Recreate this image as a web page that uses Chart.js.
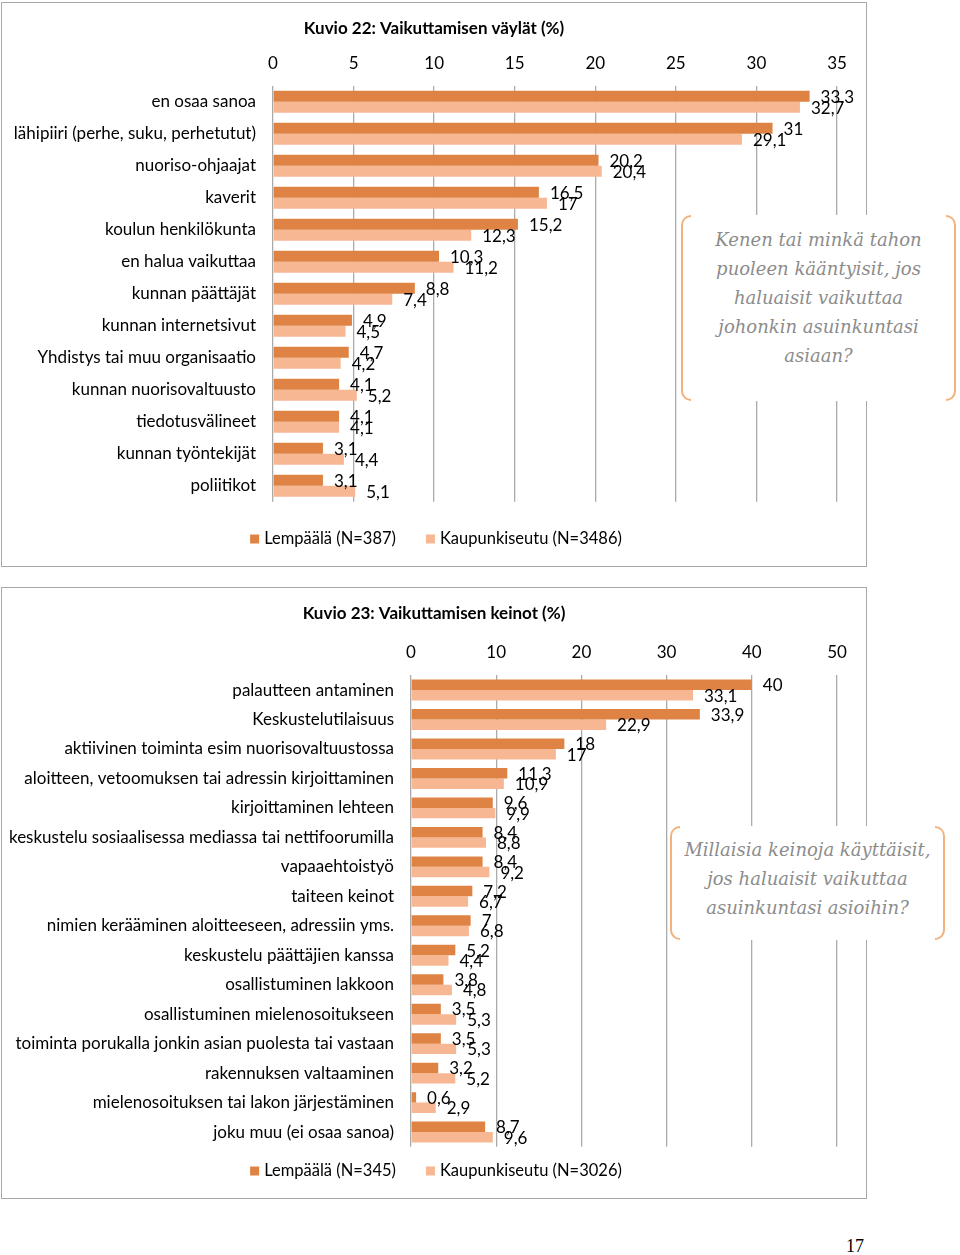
<!DOCTYPE html>
<html>
<head>
<meta charset="utf-8">
<script src="https://cdn.jsdelivr.net/npm/chart.js@4.4.1/dist/chart.umd.min.js"></script>
<style>
    body { margin: 0; width: 960px; height: 1255px; background: #fff; position: relative; font-family: Lato, sans-serif; }
    .frame { position: absolute; border: 1.5px solid #a8a8a8; box-sizing: border-box; }
    canvas { position: absolute; left: 2px; }
    .note { position: absolute; background: #fff; z-index: 2; }
    .note .txt { position: absolute; left: 0; right: 0; text-align: center; font-family: "DejaVu Serif", serif; font-style: italic; font-size: 18px; line-height: 29px; color: #8c8c8c; }
    .bl, .br { position: absolute; top: 0; bottom: 0; width: 10px; border: 2px solid #f1b27d; box-sizing: border-box; }
    .bl { left: 0; border-right: none; border-radius: 12px 0 0 12px; }
    .br { right: 0; border-left: none; border-radius: 0 12px 12px 0; }
    .page { position: absolute; left: 846px; top: 1236px; font-family: "Liberation Serif", serif; font-size: 18px; }
</style>
</head>
<body>

<div class="frame" style="left:1px; top:2px; width:866px; height:565px;"></div>
<div class="frame" style="left:1px; top:587px; width:866px; height:612px;"></div>

<canvas id="chart-vaylat" width="864" height="563" style="top:3px;"></canvas>
<canvas id="chart-keinot" width="864" height="610" style="top:588px;"></canvas>

<div class="note" style="left:681px; top:215px; width:275px; height:186px;">
    <div class="bl"></div><div class="br"></div>
    <div class="txt" style="top:10px;">Kenen tai minkä tahon<br>puoleen kääntyisit, jos<br>haluaisit vaikuttaa<br>johonkin asuinkuntasi<br>asiaan?</div>
</div>
<div class="note" style="left:670px; top:826px; width:275px; height:114px;">
    <div class="bl"></div><div class="br"></div>
    <div class="txt" style="top:9px;">Millaisia keinoja käyttäisit,<br>jos haluaisit vaikuttaa<br>asuinkuntasi asioihin?</div>
</div>

<div class="page">17</div>

<script>
// --- Kuvio 22 data ---
const vaylatLabels = [
    "en osaa sanoa", "lähipiiri (perhe, suku, perhetutut)", "nuoriso-ohjaajat", "kaverit",
    "koulun henkilökunta", "en halua vaikuttaa", "kunnan päättäjät", "kunnan internetsivut",
    "Yhdistys tai muu organisaatio", "kunnan nuorisovaltuusto", "tiedotusvälineet",
    "kunnan työntekijät", "poliitikot"
];
const vaylatLempaala = [33.3, 31, 20.2, 16.5, 15.2, 10.3, 8.8, 4.9, 4.7, 4.1, 4.1, 3.1, 3.1];
const vaylatSeutu = [32.7, 29.1, 20.4, 17, 12.3, 11.2, 7.4, 4.5, 4.2, 5.2, 4.1, 4.4, 5.1];

// --- Kuvio 23 data ---
const keinotLabels = [
    "palautteen antaminen", "Keskustelutilaisuus", "aktiivinen toiminta esim nuorisovaltuustossa",
    "aloitteen, vetoomuksen tai adressin kirjoittaminen", "kirjoittaminen lehteen",
    "keskustelu sosiaalisessa mediassa tai nettifoorumilla", "vapaaehtoistyö", "taiteen keinot",
    "nimien kerääminen aloitteeseen, adressiin yms.", "keskustelu päättäjien kanssa",
    "osallistuminen lakkoon", "osallistuminen mielenosoitukseen",
    "toiminta porukalla jonkin asian puolesta tai vastaan", "rakennuksen valtaaminen",
    "mielenosoituksen tai lakon järjestäminen", "joku muu (ei osaa sanoa)"
];
const keinotLempaala = [40, 33.9, 18, 11.3, 9.6, 8.4, 8.4, 7.2, 7, 5.2, 3.8, 3.5, 3.5, 3.2, 0.6, 8.7];
const keinotSeutu = [33.1, 22.9, 17, 10.9, 9.9, 8.8, 9.2, 6.7, 6.8, 4.4, 4.8, 5.3, 5.3, 5.2, 2.9, 9.6];

const DARK = "#de8344";
const LIGHT = "#f8b793";
const GRID = "#ababab";
const FONT = "Lato, sans-serif";
const SIZE = 17;

Chart.defaults.font.family = FONT;

// value labels at the end of each bar, Finnish decimal comma
const valueLabels = {
    id: "valueLabels",
    afterDatasetsDraw(chart) {
        const ctx = chart.ctx;
        ctx.save();
        ctx.font = SIZE + "px " + FONT;
        ctx.fillStyle = "#000";
        ctx.textAlign = "left";
        ctx.textBaseline = "middle";
        chart.data.datasets.forEach((ds, i) => {
            chart.getDatasetMeta(i).data.forEach((bar, j) => {
                ctx.fillText(String(ds.data[j]).replace(".", ","), bar.x + 11, bar.y + 1);
            });
        });
        ctx.restore();
    }
};

// title + flat legend centred on the canvas
const decor = {
    id: "decor",
    afterDraw(chart, args, opts) {
        const ctx = chart.ctx;
        ctx.save();
        ctx.textBaseline = "middle";
        ctx.fillStyle = "#000";
        ctx.font = "bold " + SIZE + "px " + FONT;
        ctx.textAlign = "center";
        ctx.fillText(opts.title, chart.width / 2, opts.titleY);

        ctx.font = "16.5px " + FONT;
        ctx.textAlign = "left";
        const box = 9, gap = 5, space = 30;
        const items = chart.data.datasets.map(d => ({ text: d.label, color: d.backgroundColor, w: ctx.measureText(d.label).width }));
        const total = items.reduce((s, it) => s + box + gap + it.w, 0) + space * (items.length - 1);
        let x = (chart.width - total) / 2 + 2;
        items.forEach(it => {
            ctx.fillStyle = it.color;
            ctx.fillRect(x, opts.legendY - box / 2, box, box);
            x += box + gap;
            ctx.fillStyle = "#000";
            ctx.fillText(it.text, x, opts.legendY);
            x += it.w + space;
        });
        ctx.restore();
    }
};

function makeChart(id, cfg) {
    const ctx = document.getElementById(id).getContext("2d");
    return new Chart(ctx, {
        type: "bar",
        data: {
            labels: cfg.labels,
            datasets: [
                { label: cfg.nameA, data: cfg.a, backgroundColor: DARK, categoryPercentage: cfg.catPct, barPercentage: 1 },
                { label: cfg.nameB, data: cfg.b, backgroundColor: LIGHT, categoryPercentage: cfg.catPct, barPercentage: 1 }
            ]
        },
        options: {
            indexAxis: "y",
            responsive: false,
            animation: false,
            layout: { padding: { left: 0, right: 29, top: 0, bottom: cfg.padBottom } },
            scales: {
                x: {
                    position: "top",
                    min: 0,
                    max: cfg.max,
                    ticks: { stepSize: cfg.step, padding: cfg.tickPad, color: "#000", font: { size: SIZE } },
                    grid: { color: GRID, lineWidth: 1.3, drawTicks: false },
                    border: { display: false },
                    afterFit: s => { s.height = cfg.top; }
                },
                y: {
                    ticks: { padding: 17, color: "#000", font: { size: SIZE } },
                    grid: { display: false, drawTicks: false },
                    border: { display: false },
                    afterFit: s => { s.width = cfg.left; }
                }
            },
            plugins: {
                legend: { display: false },
                tooltip: { enabled: false },
                decor: { title: cfg.title, titleY: 26, legendY: cfg.legendY }
            }
        },
        plugins: [valueLabels, decor]
    });
}

makeChart("chart-vaylat", {
    labels: vaylatLabels, a: vaylatLempaala, b: vaylatSeutu,
    nameA: "Lempäälä (N=387)", nameB: "Kaupunkiseutu (N=3486)",
    title: "Kuvio 22: Vaikuttamisen väylät (%)",
    max: 35, step: 5, catPct: 0.69,
    top: 82.7, left: 271, padBottom: 64.3, tickPad: 12, legendY: 536
});

makeChart("chart-keinot", {
    labels: keinotLabels, a: keinotLempaala, b: keinotSeutu,
    nameA: "Lempäälä (N=345)", nameB: "Kaupunkiseutu (N=3026)",
    title: "Kuvio 23: Vaikuttamisen keinot (%)",
    max: 50, step: 10, catPct: 0.71,
    top: 87.3, left: 409, padBottom: 51.2, tickPad: 12.8, legendY: 583
});
</script>
</body>
</html>
